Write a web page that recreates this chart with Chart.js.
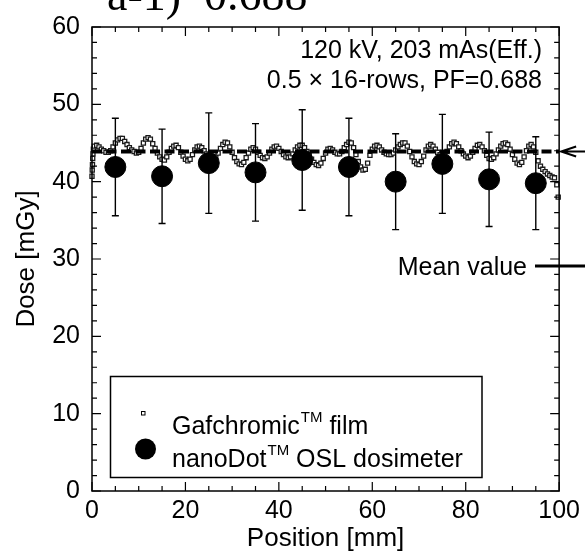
<!DOCTYPE html>
<html>
<head>
<meta charset="utf-8">
<script src="https://cdn.jsdelivr.net/npm/chart.js@4.4.1/dist/chart.umd.min.js"></script>
<style>
  html, body { margin: 0; padding: 0; background: #fff; }
  #wrap { width: 585px; height: 552px; }
</style>
</head>
<body>
<div id="wrap"><canvas id="doseChart" width="585" height="552"></canvas></div>
<script>
/* ---------- DATA ---------- */
// nanoDot OSL readings (mm, mGy) with their error bars
const oslPos = [5, 15, 25, 35, 45, 55, 65, 75, 85, 95];
const oslDose = [41.9, 40.7, 42.4, 41.2, 42.8, 41.9, 40.0, 42.3, 40.3, 39.8];
const oslError = [6.3, 6.1, 6.5, 6.3, 6.5, 6.3, 6.2, 6.4, 6.1, 6.0];

// Gafchromic film profile
const filmPos = [
  0, 0.05, 0.1, 0.15, 0.2, 0.3,
  0.5, 1, 1.5, 2, 2.5, 3, 3.5, 4, 4.5, 5,
  5.5, 6, 6.5, 7, 7.5, 8, 8.5, 9, 9.5, 10,
  10.5, 11, 11.5, 12, 12.5, 13, 13.5, 14, 14.5, 15,
  15.5, 16, 16.5, 17, 17.5, 18, 18.5, 19, 19.5, 20,
  20.5, 21, 21.5, 22, 22.5, 23, 23.5, 24, 24.5, 25,
  25.5, 26, 26.5, 27, 27.5, 28, 28.5, 29, 29.5, 30,
  30.5, 31, 31.5, 32, 32.5, 33, 33.5, 34, 34.5, 35,
  35.5, 36, 36.5, 37, 37.5, 38, 38.5, 39, 39.5, 40,
  40.5, 41, 41.5, 42, 42.5, 43, 43.5, 44, 44.5, 45,
  45.5, 46, 46.5, 47, 47.5, 48, 48.5, 49, 49.5, 50,
  50.5, 51, 51.5, 52, 52.5, 53, 53.5, 54, 54.5, 55,
  55.5, 56, 56.5, 57, 57.5, 58, 58.5, 59, 59.5, 60,
  60.5, 61, 61.5, 62, 62.5, 63, 63.5, 64, 64.5, 65,
  65.5, 66, 66.5, 67, 67.5, 68, 68.5, 69, 69.5, 70,
  70.5, 71, 71.5, 72, 72.5, 73, 73.5, 74, 74.5, 75,
  75.5, 76, 76.5, 77, 77.5, 78, 78.5, 79, 79.5, 80,
  80.5, 81, 81.5, 82, 82.5, 83, 83.5, 84, 84.5, 85,
  85.5, 86, 86.5, 87, 87.5, 88, 88.5, 89, 89.5, 90,
  90.5, 91, 91.5, 92, 92.5, 93, 93.5, 94, 94.5, 95,
  95.5, 96, 96.5, 97, 97.5, 98, 98.5, 99, 99.5,
  99.8
];
const filmDose = [
  40.7, 41.5, 42.2, 43.0, 43.6, 44.2,
  44.6, 44.7, 44.5, 44.2, 44.0, 43.8, 43.8, 44.0, 44.5, 45.0,
  45.4, 45.6, 45.6, 45.2, 44.8, 44.4, 44.1, 43.9, 43.7, 43.8,
  44.3, 45.0, 45.5, 45.7, 45.5, 44.9, 44.3, 43.7, 43.2, 42.9,
  42.8, 43.2, 43.8, 44.3, 44.6, 44.7, 44.4, 43.8, 43.3, 42.9,
  42.7, 42.9, 43.5, 44.1, 44.5, 44.6, 44.4, 44.0, 43.6, 43.3,
  43.1, 43.1, 43.2, 43.7, 44.3, 44.8, 45.1, 45.0, 44.5, 43.8,
  43.1, 42.6, 42.3, 42.2, 42.5, 43.1, 43.7, 44.2, 44.4, 44.2,
  43.8, 43.4, 43.1, 43.0, 43.2, 43.7, 44.2, 44.5, 44.6, 44.3,
  43.9, 43.5, 43.2, 43.1, 43.2, 43.6, 44.1, 44.5, 44.7, 44.7,
  44.4, 43.9, 43.4, 42.9, 42.5, 42.2, 42.1, 42.4, 43.0, 43.7,
  44.2, 44.3, 44.1, 43.8, 43.6, 43.6, 43.9, 44.4, 44.8, 45.1,
  45.0, 44.4, 43.5, 42.6, 41.9, 41.5, 41.6, 42.4, 43.4, 44.2,
  44.6, 44.7, 44.5, 44.1, 43.8, 43.6, 43.5, 43.5, 43.7, 44.1,
  44.5, 44.8, 45.0, 45.0, 44.6, 43.9, 43.2, 42.6, 42.3, 42.2,
  42.6, 43.3, 44.1, 44.6, 44.8, 44.6, 44.2, 43.8, 43.5, 43.3,
  43.4, 43.9, 44.5, 44.9, 45.1, 44.9, 44.5, 44.0, 43.6, 43.3,
  43.1, 43.3, 43.8, 44.3, 44.7, 44.8, 44.5, 44.0, 43.4, 43.0,
  42.9, 43.1, 43.6, 44.1, 44.6, 44.9, 45.0, 44.8, 44.2, 43.5,
  42.9, 42.4, 42.2, 42.5, 43.2, 44.0, 44.6, 44.8, 44.5, 43.8,
  42.7, 42.0, 41.6, 41.3, 41.0, 40.8, 40.6, 40.5, 39.6,
  38.0
];

const meanDose = 43.9;

// axes
const xMin = 0, xMax = 100, xLabelStep = 20, xMinorStep = 5;
const yMin = 0, yMax = 60, yLabelStep = 10, yMinorStep = 2;

const infoLines = ["120 kV, 203 mAs(Eff.)", "0.5 \u00d7 16-rows, PF=0.688"];
const panelTitle = "a-1)  0.688";

/* ---------- HELPERS ---------- */
const SANS = '"Liberation Sans", Arial, Helvetica, sans-serif';
const SERIF = '"Liberation Serif", "Times New Roman", serif';

// text with a superscript part, e.g. "Gafchromic" + "TM" + " film"
function drawSupText(ctx, x, y, base, sup, rest){
  ctx.font = `25px ${SANS}`;
  ctx.fillText(base, x, y);
  x += ctx.measureText(base).width + 1;
  ctx.font = `15px ${SANS}`;
  ctx.fillText(sup, x, y - 12);
  x += ctx.measureText(sup).width;
  ctx.font = `25px ${SANS}`;
  ctx.fillText(rest, x, y);
}

/* ---------- PLUGINS ---------- */
const errorBars = {
  id: "errorBars",
  beforeDatasetDraw(chart, args){
    if(args.index !== 0) return;
    const {ctx, scales:{x, y}} = chart;
    ctx.save();
    ctx.strokeStyle = "#000";
    ctx.lineWidth = 1.4;
    ctx.beginPath();
    oslPos.forEach((p, i)=>{
      const px = x.getPixelForValue(p);
      const top = y.getPixelForValue(oslDose[i] + oslError[i]);
      const bot = y.getPixelForValue(oslDose[i] - oslError[i]);
      ctx.moveTo(px, top); ctx.lineTo(px, bot);
      ctx.moveTo(px - 3.5, top); ctx.lineTo(px + 3.5, top);
      ctx.moveTo(px - 3.5, bot); ctx.lineTo(px + 3.5, bot);
    });
    ctx.stroke();
    ctx.restore();
  }
};

const frameTicks = {
  id: "frameTicks",
  afterDatasetsDraw(chart){
    const {ctx, chartArea:a, scales:{x, y}} = chart;
    ctx.save();
    ctx.strokeStyle = "#000";
    ctx.lineWidth = 1.5;
    ctx.strokeRect(a.left, a.top, a.right - a.left, a.bottom - a.top);
    ctx.lineWidth = 1.2;
    ctx.beginPath();
    for(let v = xMin; v <= xMax; v += xMinorStep){
      const px = x.getPixelForValue(v);
      const len = v % xLabelStep === 0 ? 9 : 5;
      ctx.moveTo(px, a.bottom); ctx.lineTo(px, a.bottom - len);
      ctx.moveTo(px, a.top); ctx.lineTo(px, a.top + len);
    }
    for(let v = yMin; v <= yMax; v += yMinorStep){
      const py = y.getPixelForValue(v);
      const len = v % yLabelStep === 0 ? 9 : 5;
      ctx.moveTo(a.left, py); ctx.lineTo(a.left + len, py);
      ctx.moveTo(a.right, py); ctx.lineTo(a.right - len, py);
    }
    ctx.stroke();
    ctx.restore();
  }
};

const annotations = {
  id: "annotations",
  afterDraw(chart){
    const {ctx, chartArea:a, scales:{y}} = chart;
    ctx.save();
    ctx.fillStyle = "#000";
    ctx.strokeStyle = "#000";
    ctx.textBaseline = "alphabetic";

    // panel title, mostly above the canvas
    ctx.font = `46px ${SERIF}`;
    ctx.textAlign = "left";
    ctx.fillText(panelTitle, 107, 10);

    // exposure conditions
    ctx.font = `25px ${SANS}`;
    ctx.textAlign = "right";
    ctx.fillText(infoLines[0], 542, 58);
    ctx.fillText(infoLines[1], 542, 88);

    // mean value arrow at the right edge
    const my = y.getPixelForValue(meanDose);
    ctx.lineWidth = 2;
    ctx.beginPath();
    ctx.moveTo(a.right + 2, my); ctx.lineTo(585, my);
    ctx.moveTo(a.right + 17, my - 5); ctx.lineTo(a.right + 2, my); ctx.lineTo(a.right + 17, my + 5);
    ctx.stroke();

    ctx.fillText("Mean value", 527, 275);
    ctx.lineWidth = 3;
    ctx.beginPath();
    ctx.moveTo(535, 266); ctx.lineTo(585, 266);
    ctx.stroke();

    // legend
    ctx.lineWidth = 1.5;
    ctx.strokeRect(110.5, 376.5, 371.5, 101);
    ctx.lineWidth = 1;
    ctx.fillStyle = "#fff";
    ctx.fillRect(141.5, 411.5, 3.5, 3.5);
    ctx.strokeRect(141.5, 411.5, 3.5, 3.5);
    ctx.fillStyle = "#000";
    ctx.beginPath();
    ctx.arc(145.5, 449, 10.5, 0, Math.PI * 2);
    ctx.fill();
    ctx.textAlign = "left";
    drawSupText(ctx, 172, 434, "Gafchromic", "TM", " film");
    drawSupText(ctx, 172, 467, "nanoDot", "TM", " OSL dosimeter");
    ctx.restore();
  }
};

/* ---------- CHART ---------- */
const tickFont = {family: SANS, size: 25};
const titleFont = {family: SANS, size: 26, lineHeight: 1};

new Chart(document.getElementById("doseChart"), {
  type: "scatter",
  data: {
    datasets: [
      {
        label: "nanoDot OSL dosimeter",
        data: oslPos.map((p, i)=>({x: p, y: oslDose[i]})),
        pointRadius: 10.5,
        pointBackgroundColor: "#000",
        pointBorderColor: "#000",
        order: 0
      },
      {
        label: "Mean value",
        data: [{x: xMin, y: meanDose}, {x: xMax, y: meanDose}],
        showLine: true,
        borderColor: "#000",
        borderWidth: 4,
        borderDash: [10, 4.5],
        pointRadius: 0,
        order: 1
      },
      {
        label: "Gafchromic film",
        data: filmPos.map((p, i)=>({x: p, y: filmDose[i]})),
        pointStyle: "rect",
        pointRadius: 2.9,
        pointBorderWidth: 1.3,
        pointBorderColor: "#1a1a1a",
        pointBackgroundColor: "#fff",
        clip: 8,
        order: 2
      }
    ]
  },
  options: {
    responsive: false,
    animation: false,
    devicePixelRatio: 1,
    layout: {padding: {left: 0, right: 24, top: 23, bottom: 0}},
    plugins: {legend: {display: false}, tooltip: {enabled: false}},
    scales: {
      x: {
        type: "linear", min: xMin, max: xMax,
        grid: {display: false, drawTicks: false},
        border: {display: false},
        ticks: {stepSize: xLabelStep, padding: 5, color: "#000", font: tickFont, maxRotation: 0},
        title: {display: true, text: "Position [mm]", color: "#000", font: titleFont, padding: 0},
        afterFit(s){ s.height = 61; }
      },
      y: {
        type: "linear", min: yMin, max: yMax,
        grid: {display: false, drawTicks: false},
        border: {display: false},
        ticks: {stepSize: yLabelStep, padding: 12, color: "#000", font: tickFont},
        title: {display: true, text: "Dose [mGy]", color: "#000", font: titleFont, padding: {top: 14, bottom: 0}},
        afterFit(s){ s.width = 92; }
      }
    }
  },
  plugins: [errorBars, frameTicks, annotations]
});
</script>
</body>
</html>
